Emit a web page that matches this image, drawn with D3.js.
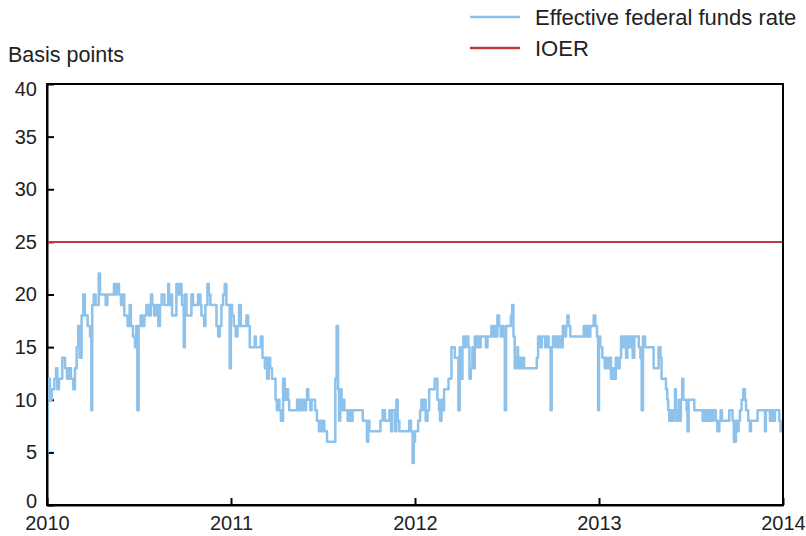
<!doctype html>
<html>
    <head>
		<meta charset="UTF-8">
		<script src="https://d3js.org/d3.v7.min.js"></script>
		<style type="text/css">
body { margin: 0; background: #fff; }
svg { font-family: "Liberation Sans", Arial, sans-serif; }
.axis text { font-size: 20px; fill: #222; }
.axis path, .axis line { stroke: #000; stroke-width: 2; }
		</style>
    </head>
    <body>
       <script>
// fractional years where the daily rate changes
var dates = [
 2010.000,2010.003,2010.016,2010.025,2010.040,2010.049,2010.056,2010.065,2010.083,2010.098,2010.109,2010.119,2010.130,2010.143,2010.152,2010.161,2010.170,2010.177,2010.188,2010.197,
 2010.206,2010.221,2010.234,2010.241,2010.246,2010.254,2010.264,2010.281,2010.288,2010.319,2010.328,2010.364,2010.371,2010.380,2010.391,2010.402,2010.413,2010.420,2010.438,2010.449,
 2010.456,2010.467,2010.478,2010.485,2010.491,2010.498,2010.509,2010.518,2010.529,2010.540,2010.554,2010.565,2010.572,2010.583,2010.592,2010.605,2010.614,2010.623,2010.638,2010.659,
 2010.663,2010.668,2010.672,2010.680,2010.703,2010.712,2010.721,2010.731,2010.734,2010.743,2010.749,2010.758,2010.785,2010.794,2010.821,2010.834,2010.839,2010.854,2010.861,2010.872,
 2010.879,2010.888,2010.921,2010.930,2010.939,2010.948,2010.957,2010.966,2010.975,2010.993,2010.999,
 2011.006,2011.015,2011.026,2011.035,2011.044,2011.053,2011.084,2011.093,2011.102,2011.129,2011.135,2011.162,2011.171,2011.184,2011.189,2011.196,2011.205,2011.213,2011.223,2011.242,
 2011.249,2011.256,2011.263,2011.271,2011.283,2011.292,2011.301,2011.310,2011.316,2011.359,2011.366,2011.373,2011.380,2011.388,2011.399,2011.408,2011.413,2011.420,2011.431,2011.438,
 2011.457,2011.467,2011.478,2011.486,2011.493,2011.500,2011.507,2011.522,2011.567,2011.574,2011.582,2011.587,2011.594,2011.601,2011.607,2011.616,2011.634,2011.643,2011.652,2011.661,
 2011.716,2011.739,2011.746,2011.752,2011.812,2011.824,2011.837,2011.861,2011.870,2011.875,2011.891,2011.899,2011.906,2011.915,2011.969,2011.978,2011.987,2011.993,
 2012.000,2012.017,2012.028,2012.035,2012.046,2012.053,2012.058,2012.068,2012.077,2012.107,2012.122,2012.131,2012.136,2012.144,2012.149,2012.158,2012.182,2012.198,2012.216,2012.236,
 2012.243,2012.249,2012.258,2012.263,2012.270,2012.276,2012.290,2012.296,2012.303,2012.312,2012.318,2012.325,2012.332,2012.339,2012.348,2012.357,2012.385,2012.394,2012.415,2012.426,
 2012.434,2012.441,2012.448,2012.457,2012.466,2012.475,2012.481,2012.488,2012.495,2012.521,2012.528,2012.535,2012.542,2012.550,2012.557,2012.560,2012.566,2012.575,2012.584,2012.593,
 2012.662,2012.669,2012.681,2012.690,2012.708,2012.717,2012.726,2012.737,2012.743,2012.750,2012.763,2012.772,2012.781,2012.786,2012.793,2012.803,2012.812,2012.821,2012.828,2012.835,
 2012.844,2012.917,2012.926,2012.935,2012.944,2012.953,2012.971,2012.980,2012.989,2012.995,
 2013.000,2013.007,2013.018,2013.031,2013.038,2013.047,2013.058,2013.065,2013.076,2013.083,2013.091,2013.102,2013.112,2013.120,2013.129,2013.138,2013.147,2013.154,2013.163,2013.172,
 2013.183,2013.192,2013.216,2013.225,2013.232,2013.239,2013.250,2013.297,2013.324,2013.334,2013.340,2013.364,2013.371,2013.376,2013.382,2013.389,2013.396,2013.404,2013.413,2013.418,
 2013.425,2013.433,2013.436,2013.445,2013.452,2013.458,2013.476,2013.481,2013.487,2013.518,2013.563,2013.570,2013.576,2013.585,2013.594,2013.603,2013.612,2013.621,2013.635,2013.643,
 2013.654,2013.661,2013.668,2013.708,2013.726,2013.733,2013.744,2013.751,2013.759,2013.766,2013.775,2013.784,2013.793,2013.799,2013.811,2013.820,2013.826,2013.862,2013.902,2013.907,
 2013.929,2013.938,2013.947,2013.956,2013.980,2013.987,2014.000
];

// effective federal funds rate, basis points, from each date above
var effr = [
 5,12,10,11,12,13,11,12,14,13,12,13,12,11,13,15,17,14,18,20,
 18,17,16,9,19,20,19,22,20,19,20,21,20,21,20,19,20,18,17,19,
 17,16,15,17,9,17,18,17,18,19,18,20,19,18,19,17,19,20,19,21,
 20,19,20,18,21,20,21,20,19,15,20,18,20,19,20,19,18,17,19,21,
 20,19,17,16,17,19,20,21,19,13,19,
 18,17,16,17,19,17,18,17,15,16,15,16,14,13,14,12,14,13,12,10,
 9,10,9,8,12,10,11,10,9,10,9,10,9,10,9,10,11,10,9,10,
 9,8,7,8,7,8,7,6,12,17,11,8,11,9,10,9,8,9,8,9,
 8,6,8,7,8,9,8,9,7,9,7,10,8,7,8,7,4,6,
 7,8,9,10,9,10,8,9,11,12,10,9,8,10,9,11,12,15,14,9,
 15,12,15,16,15,16,15,12,13,15,13,16,15,16,15,16,15,16,17,16,
 17,16,18,17,16,17,16,9,17,18,19,16,13,14,15,13,14,13,14,13,
 14,16,15,16,15,16,15,9,15,16,15,16,15,16,15,17,16,17,18,17,
 16,17,16,17,16,17,18,17,16,9,
 16,15,14,13,14,13,14,12,13,12,14,13,14,16,15,16,14,16,15,16,
 14,16,15,14,9,16,15,13,15,14,12,11,10,9,8,9,8,9,11,8,
 9,10,8,10,12,10,9,7,10,9,8,9,8,9,8,9,8,9,8,7,
 8,9,8,9,8,6,8,7,8,9,10,11,10,9,8,7,8,9,7,9,
 8,9,8,9,8,7,7
];

var ioer = 25;
var yTicks = [0, 5, 10, 15, 20, 25, 30, 35, 40];
var xTicks = [2010, 2011, 2012, 2013, 2014];
var seriesNames = ["Effective federal funds rate", "IOER"];
var seriesColors = ["#8ec2ea", "#c0393b"];

var w = 806;
var h = 536;
var margin = {top: 84, right: 23, bottom: 31, left: 47};

var svg = d3.select("body").append("svg")
	.attr("width", w)
	.attr("height", h);

var x = d3.scaleLinear()
	.domain([2010, 2014])
	.range([margin.left, w - margin.right]);

var y = d3.scaleLinear()
	.domain([0, 40])
	.range([h - margin.bottom, margin.top]);

var data = dates.map(function(d, i) { return {t: d, v: effr[i]}; });

// ticks point inwards, labels outside
var yAxis = svg.append("g")
	.attr("class", "axis")
	.attr("transform", "translate(" + margin.left + ",0)")
	.call(d3.axisLeft(y).tickValues(yTicks).tickSize(-7).tickPadding(10).tickSizeOuter(0));

// end labels sit a little inside the frame, like the original
yAxis.selectAll(".tick text")
	.attr("y", function(d) { return d == 40 ? 5 : (d == 0 ? -4 : 0); });

svg.append("g")
	.attr("class", "axis")
	.attr("transform", "translate(0," + (h - margin.bottom) + ")")
	.call(d3.axisBottom(x).tickValues(xTicks).tickFormat(d3.format("d")).tickSize(-7).tickPadding(11).tickSizeOuter(0));

// the fed funds line
var line = d3.line()
	.x(function(d) { return x(d.t); })
	.y(function(d) { return y(d.v); })
	.curve(d3.curveStepAfter);

svg.append("path")
	.datum(data)
	.attr("d", line)
	.attr("fill", "none")
	.attr("stroke", seriesColors[0])
	.attr("stroke-width", 2.5)
	.attr("stroke-linejoin", "round");

// IOER flat at 25
svg.append("line")
	.attr("x1", x(2010)).attr("x2", x(2014))
	.attr("y1", y(ioer)).attr("y2", y(ioer))
	.attr("stroke", seriesColors[1])
	.attr("stroke-width", 2);

// frame
svg.append("rect")
	.attr("x", x(2010)).attr("y", y(40))
	.attr("width", x(2014) - x(2010))
	.attr("height", y(0) - y(40))
	.attr("fill", "none")
	.attr("stroke", "#000")
	.attr("stroke-width", 2);

svg.append("text")
	.attr("x", 8).attr("y", 62)
	.attr("font-size", 21.5)
	.attr("fill", "#222")
	.text("Basis points");

// legend
var legend = svg.append("g").attr("transform", "translate(470, 17)");
var items = legend.selectAll("g")
	.data(seriesNames)
	.enter().append("g")
	.attr("transform", function(d, i) { return "translate(0," + i * 31 + ")"; });
items.append("line")
	.attr("x1", 0).attr("x2", 50)
	.attr("stroke", function(d, i) { return seriesColors[i]; })
	.attr("stroke-width", 2.5);
items.append("text")
	.attr("x", 65).attr("y", 8)
	.attr("font-size", 22)
	.attr("fill", "#222")
	.text(function(d) { return d; });
	</script>
    </body>
</html>
